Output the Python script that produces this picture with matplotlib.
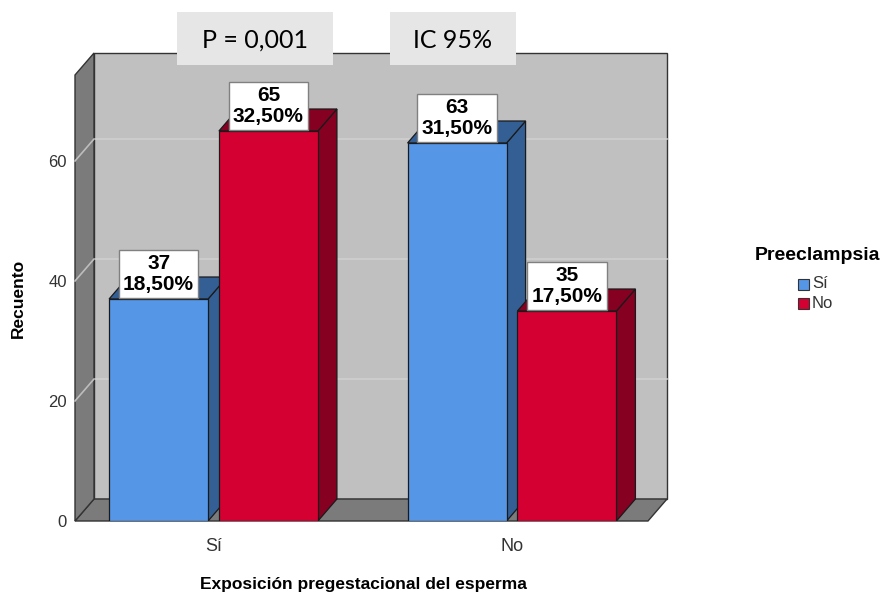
import matplotlib.pyplot as plt
from matplotlib.patches import Polygon, Rectangle
import numpy as np

plt.rcParams['font.family'] = ['Liberation Sans', 'DejaVu Sans']

# data
categories = ['Sí', 'No']                 # Exposición pregestacional del esperma
series = ['Sí', 'No']                     # Preeclampsia
counts = {'Sí': [37, 63], 'No': [65, 35]}
percents = {'Sí': [18.5, 31.5], 'No': [32.5, 17.5]}
front_colors = {'Sí': '#5596E6', 'No': '#D50032'}
side_colors = {'Sí': '#335F95', 'No': '#860022'}

W, H = 891, 597
fig = plt.figure(figsize=(W / 100, H / 100), dpi=100)

# front plane of the 3d box, in pixels
px_left, px_right, px_floor, px_top = 75, 648, 521, 75
ax = fig.add_axes([px_left / W, 1 - px_floor / H,
                   (px_right - px_left) / W, (px_floor - px_top) / H])
ppu = 6.0  # pixels per count
ymax = (px_floor - px_top) / ppu
xpx = 298.5  # pixels per category step
xmin = -(213.5 - px_left) / xpx
xmax = 1 + (px_right - 512) / xpx
ax.set_xlim(xmin, xmax)
ax.set_ylim(0, ymax)
for s in ax.spines.values():
    s.set_visible(False)
ax.patch.set_visible(False)

# depth offset
dx = 19 / xpx
dy = 22 / ppu

wall = '#C0C0C0'
side = '#7B7B7B'
edge = '#333333'

# back wall
ax.add_patch(Rectangle((xmin + dx, dy), xmax - xmin, ymax, facecolor=wall,
                       edgecolor=edge, lw=1, clip_on=False, zorder=0))
# grid on back wall
yticks = [0, 20, 40, 60]
for t in yticks[1:]:
    ax.plot([xmin + dx, xmax + dx], [t + dy, t + dy], color='#CFCFCF', lw=1.2,
            clip_on=False, zorder=1)
# floor
ax.add_patch(Polygon([(xmin, 0), (xmax, 0), (xmax + dx, dy), (xmin + dx, dy)],
                     closed=True, facecolor=side, edgecolor=edge, lw=1,
                     clip_on=False, zorder=2))
# left wall
ax.add_patch(Polygon([(xmin, 0), (xmin + dx, dy), (xmin + dx, ymax + dy), (xmin, ymax)],
                     closed=True, facecolor=side, edgecolor=edge, lw=1,
                     clip_on=False, zorder=2))
for t in yticks[1:]:
    ax.plot([xmin, xmin + dx], [t, t + dy], color='#BDBDBD', lw=1.2,
            clip_on=False, zorder=3)

# bars
bw = 99 / xpx
offs = {'Sí': -0.184, 'No': 0.184}
x = np.arange(len(categories))
fs_lbl = 15
pad = 0.2
z = 4
for i in range(len(categories)):
    for s in series:
        xc = x[i] + offs[s]
        v = counts[s][i]
        l, r = xc - bw / 2, xc + bw / 2
        ax.add_patch(Polygon([(r, 0), (r + dx, dy), (r + dx, v + dy), (r, v)],
                             closed=True, facecolor=side_colors[s], edgecolor='#1A1A1A',
                             lw=0.9, zorder=z))
        ax.add_patch(Polygon([(l, v), (r, v), (r + dx, v + dy), (l + dx, v + dy)],
                             closed=True, facecolor=side_colors[s], edgecolor='#1A1A1A',
                             lw=0.9, zorder=z, clip_on=False))
        ax.bar(xc, v, width=bw, color=front_colors[s], edgecolor='#1A1A1A',
               lw=0.9, zorder=z + 1)
        lbl = f"{v}\n{percents[s][i]:.2f}%".replace('.', ',')
        ax.annotate(lbl, (xc, v), xytext=(0, pad * fs_lbl * 100 / 72 + 1),
                    textcoords='offset pixels', ha='center', va='bottom',
                    fontsize=fs_lbl, fontweight='bold', linespacing=1.1,
                    zorder=20, annotation_clip=False,
                    bbox=dict(boxstyle=f'square,pad={pad}', facecolor='white',
                              edgecolor='#808080', lw=1))
        z += 2

# axes ticks and labels
ax.set_yticks(yticks)
ax.set_yticklabels([str(t) for t in yticks], fontsize=12, color='#333333')
ax.set_xticks(x)
ax.set_xticklabels(categories, fontsize=13, color='#333333')
ax.tick_params(axis='y', length=0, pad=6)
ax.tick_params(axis='x', length=0, pad=12)
ax.set_xlabel('Exposición pregestacional del esperma', fontsize=12.5,
              fontweight='bold', va='center')
ax.xaxis.set_label_coords((363 - px_left) / (px_right - px_left),
                          -(584 - px_floor) / (px_floor - px_top))
ax.set_ylabel('Recuento', fontsize=12.5, fontweight='bold', va='center')
ax.yaxis.set_label_coords((18 - px_left) / (px_right - px_left), 0.5)

# legend
fig.text(818 / W, 1 - 255 / H, 'Preeclampsia', ha='center', va='center',
         fontsize=14, fontweight='bold')
for k, s in enumerate(series):
    yy = 1 - (284 + 19 * k) / H
    fig.patches.append(Rectangle((798 / W, yy - 5.5 / H), 11 / W, 11 / H,
                                 facecolor=front_colors[s], edgecolor='#333333',
                                 lw=0.8, transform=fig.transFigure))
    fig.text(812 / W, yy, s, ha='left', va='center', fontsize=12, color='#333333')

# text boxes above the plot
for txt, x0, x1 in [('P = 0,001', 177, 333), ('IC 95%', 390, 516)]:
    fig.patches.append(Rectangle((x0 / W, 1 - 65 / H), (x1 - x0) / W, 53 / H,
                                 facecolor='#E6E6E6', edgecolor='none',
                                 transform=fig.transFigure, zorder=30))
    fig.text((x0 + x1) / 2 / W, 1 - 40 / H, txt, ha='center', va='center',
             fontsize=18, family=['Lato', 'DejaVu Sans'], zorder=31)

fig.savefig('out.png', dpi=100)
